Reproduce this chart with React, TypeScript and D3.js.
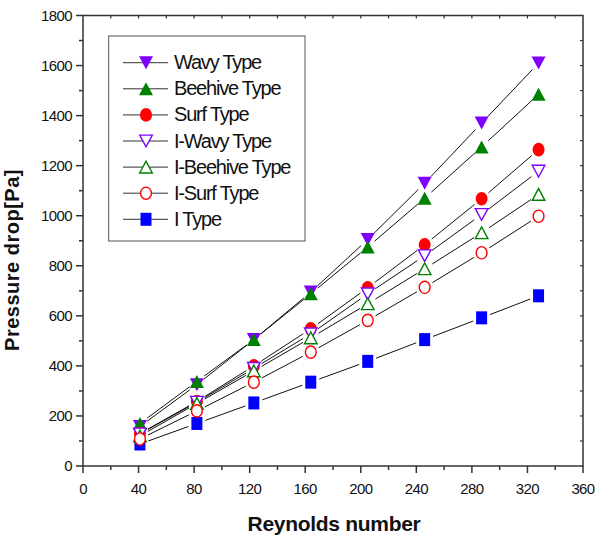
import React from "react";
import * as d3 from "d3";

const reynolds = [41, 82, 123, 164, 205, 246, 287, 328];
const wavy = [158, 325, 505, 695, 905, 1130, 1370, 1610];
const beehive = [170, 338, 505, 688, 875, 1070, 1275, 1485];
const surf = [130, 258, 400, 548, 712, 884, 1068, 1264];
const iWavy = [128, 255, 390, 528, 688, 840, 1005, 1178];
const iBeehive = [120, 250, 380, 512, 648, 788, 932, 1085];
const iSurf = [108, 220, 335, 455, 582, 714, 852, 998];
const iType = [88, 170, 252, 335, 418, 505, 592, 680];

const xTicks = [0, 40, 80, 120, 160, 200, 240, 280, 320, 360];
const yTicks = [0, 200, 400, 600, 800, 1000, 1200, 1400, 1600, 1800];

type Marker = "tdown" | "tup" | "circle" | "square";
interface Series { name: string; values: number[]; color: string; marker: Marker; filled: boolean; }

const series: Series[] = [
  { name: "Wavy Type", values: wavy, color: "#7f00ff", marker: "tdown", filled: true },
  { name: "Beehive Type", values: beehive, color: "#008000", marker: "tup", filled: true },
  { name: "Surf Type", values: surf, color: "#ff0000", marker: "circle", filled: true },
  { name: "I-Wavy Type", values: iWavy, color: "#7f00ff", marker: "tdown", filled: false },
  { name: "I-Beehive Type", values: iBeehive, color: "#008000", marker: "tup", filled: false },
  { name: "I-Surf Type", values: iSurf, color: "#ff0000", marker: "circle", filled: false },
  { name: "I Type", values: iType, color: "#0000ff", marker: "square", filled: true },
];
const drawOrder = [6, 0, 1, 2, 3, 4, 5];

const W = 595, H = 541;
const x = d3.scaleLinear().domain([0, 360]).range([83, 583]);
const y = d3.scaleLinear().domain([0, 1800]).range([466, 15.5]);
const FONT = "Liberation Sans, Arial, sans-serif";

function MarkerShape({ m, cx, cy, color, filled }: { m: Marker; cx: number; cy: number; color: string; filled: boolean }) {
  const fill = filled ? color : "#fff";
  const sw = filled ? 0 : 1.4;
  const k = filled ? 1 : 0.9;
  if (m === "tdown") {
    const w = 7 * k, h = 6.5 * k;
    return <path d={`M${cx - w},${cy - h}L${cx + w},${cy - h}L${cx},${cy + h}Z`} fill={fill} stroke={color} strokeWidth={sw} />;
  }
  if (m === "tup") {
    const w = 7 * k, h = 6.5 * k;
    return <path d={`M${cx - w},${cy + h}L${cx + w},${cy + h}L${cx},${cy - h}Z`} fill={fill} stroke={color} strokeWidth={sw} />;
  }
  if (m === "circle") {
    return <ellipse cx={cx} cy={cy} rx={6 * k} ry={6.8 * k} fill={fill} stroke={color} strokeWidth={sw} />;
  }
  return <rect x={cx - 5.5} y={cy - 6.5} width={11} height={13} fill={fill} />;
}

function gapSegments(pts: [number, number][], gap: number) {
  const segs: string[] = [];
  for (let i = 0; i < pts.length - 1; i++) {
    const [x1, y1] = pts[i];
    const [x2, y2] = pts[i + 1];
    const dx = x2 - x1, dy = y2 - y1;
    const len = Math.hypot(dx, dy);
    if (len <= 2 * gap) continue;
    const ux = dx / len, uy = dy / len;
    segs.push(`M${x1 + ux * gap},${y1 + uy * gap}L${x2 - ux * gap},${y2 - uy * gap}`);
  }
  return segs.join("");
}

export default function App() {
  const minorX = d3.range(20, 360, 40);
  const minorY = d3.range(100, 1800, 200);
  const topTicks = d3.range(20, 360, 20);
  const rightTicks = d3.range(100, 1800, 100);
  const legX = 146, legY0 = 62.7, legDy = 26.1;
  return (
    <svg width={W} height={H} style={{ position: "absolute", left: 0, top: 0, background: "#fff" }} fontFamily={FONT}>
      <rect width={W} height={H} fill="#fff" />
      {series.map((s, i) => {
        const pts = s.values.map((v, j) => [x(reynolds[j]), y(v)] as [number, number]);
        return <path key={"l" + i} d={gapSegments(pts, 9)} stroke="#111" strokeWidth={1} fill="none" />;
      })}
      {drawOrder.map((i) => {
        const s = series[i];
        return (
          <g key={"m" + i}>
            {s.values.map((v, j) => (
              <MarkerShape key={j} m={s.marker} cx={x(reynolds[j])} cy={y(v)} color={s.color} filled={s.filled} />
            ))}
          </g>
        );
      })}
      <rect x={x(0)} y={y(1800)} width={x(360) - x(0)} height={y(0) - y(1800)} fill="none" stroke="#333" strokeWidth={1.5} />
      {xTicks.map((t) => (
        <g key={"xt" + t}>
          <line x1={x(t)} x2={x(t)} y1={y(0)} y2={y(0) + 7} stroke="#333" strokeWidth={1.5} />
          <text x={x(t)} y={494} fontSize={15} textAnchor="middle" letterSpacing={-0.6} fill="#111">{t}</text>
        </g>
      ))}
      {minorX.map((t) => (
        <line key={"xm" + t} x1={x(t)} x2={x(t)} y1={y(0)} y2={y(0) + 4} stroke="#333" strokeWidth={1.5} />
      ))}
      {topTicks.map((t) => (
        <line key={"tt" + t} x1={x(t)} x2={x(t)} y1={y(1800)} y2={y(1800) + 3} stroke="#333" strokeWidth={1.2} />
      ))}
      {yTicks.map((t) => (
        <g key={"yt" + t}>
          <line x1={x(0) - 7} x2={x(0)} y1={y(t)} y2={y(t)} stroke="#333" strokeWidth={1.5} />
          <text x={72} y={y(t)} dy="0.36em" fontSize={15} textAnchor="end" letterSpacing={-0.6} fill="#111">{t}</text>
        </g>
      ))}
      {minorY.map((t) => (
        <line key={"ym" + t} x1={x(0) - 4} x2={x(0)} y1={y(t)} y2={y(t)} stroke="#333" strokeWidth={1.5} />
      ))}
      {rightTicks.map((t) => (
        <line key={"rt" + t} x1={x(360) - 3} x2={x(360)} y1={y(t)} y2={y(t)} stroke="#333" strokeWidth={1.2} />
      ))}
      <text x={334} y={531} fontSize={21} fontWeight="bold" textAnchor="middle" letterSpacing={-0.3} fill="#111">Reynolds number</text>
      <text transform={`translate(19,260) rotate(-90)`} fontSize={20} fontWeight="bold" textAnchor="middle" letterSpacing={0.5} fill="#111">Pressure drop[Pa]</text>
      <rect x={108.7} y={36} width={196.3} height={205} fill="none" stroke="#555" strokeWidth={1} />
      {series.map((s, i) => {
        const cy = legY0 + i * legDy;
        return (
          <g key={"lg" + i}>
            <line x1={123} x2={168} y1={cy} y2={cy} stroke="#333" strokeWidth={1} />
            <MarkerShape m={s.marker} cx={legX} cy={cy} color={s.color} filled={s.filled} />
            <text x={174} y={cy + 6.5} fontSize={20} letterSpacing={-1.2} fill="#111">{s.name}</text>
          </g>
        );
      })}
    </svg>
  );
}
